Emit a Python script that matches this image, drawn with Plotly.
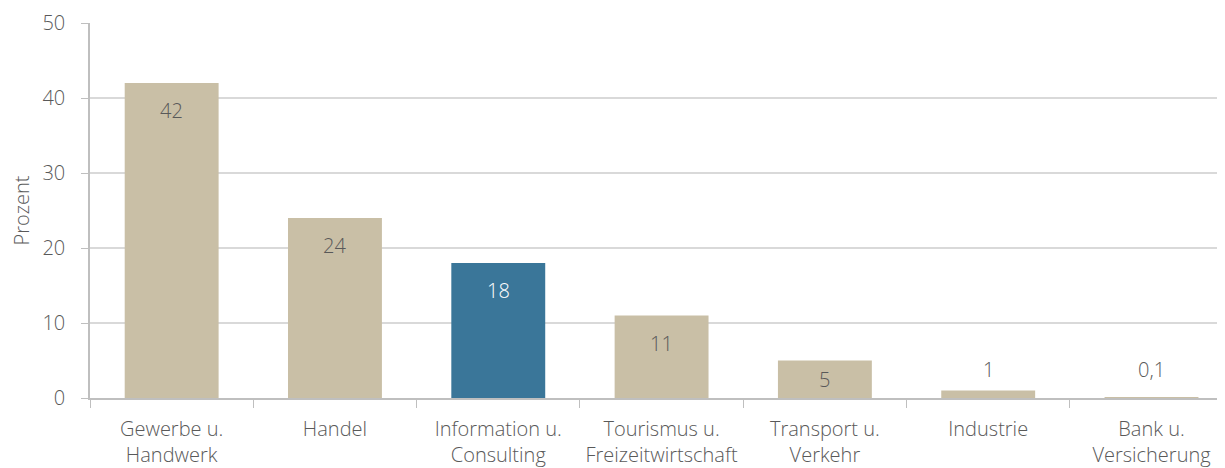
import plotly.graph_objects as go

categories = ["Gewerbe u.<br>Handwerk", "Handel", "Information u.<br>Consulting",
              "Tourismus u.<br>Freizeitwirtschaft", "Transport u.<br>Verkehr",
              "Industrie", "Bank u.<br>Versicherung"]
values = [42, 24, 18, 11, 5, 1, 0.1]
value_labels = ["42", "24", "18", "11", "5", "1", "0,1"]
highlight = [False, False, True, False, False, False, False]
y_ticks = [0, 10, 20, 30, 40, 50]

BEIGE = "#C9BFA6"
BLUE = "#3A7699"
GRAY = "#595959"
FONT = "Open Sans"
FS = 20

colors = [BLUE if h else BEIGE for h in highlight]

fig = go.Figure(go.Bar(x=categories, y=values, marker=dict(color=colors, line=dict(width=0)),
                       width=0.575, hoverinfo="skip"))

# label placement style: inside near top for tall bars, above for tiny bars
for i, (c, v, t) in enumerate(zip(categories, values, value_labels)):
    inside = v >= 5
    if inside:
        yshift = -12 if v > 5 else -3
        fig.add_annotation(x=c, y=v, text=t, showarrow=False, yanchor="top", yshift=yshift,
                           font=dict(family=FONT, size=FS, weight=300,
                                     color="white" if highlight[i] else GRAY))
    else:
        yshift = 6 if v >= 1 else 12
        fig.add_annotation(x=c, y=v, text=t, showarrow=False, yanchor="bottom", yshift=yshift,
                           font=dict(family=FONT, size=FS, weight=300, color=GRAY))

fig.update_layout(
    width=1217, height=460,
    margin=dict(l=82, r=0, t=15, b=70),
    plot_bgcolor="white", paper_bgcolor="white",
    font=dict(family=FONT, size=FS, color=GRAY, weight=300),
    showlegend=False,
)
fig.update_xaxes(type="category", range=[-0.5, 6.45], tickson="boundaries",
                 ticks="outside", ticklen=8, tickcolor="#BFBFBF", showline=True,
                 linecolor="#BFBFBF", linewidth=1.5, showgrid=False,
                 ticklabelstandoff=12,
                 tickfont=dict(family=FONT, size=FS, weight=300, color=GRAY))
fig.update_yaxes(range=[0, 50], tickvals=y_ticks, ticks="outside", ticklen=7,
                 tickcolor="#BFBFBF", showline=True, linecolor="#BFBFBF", linewidth=1.5,
                 gridcolor="#D9D9D9", gridwidth=1.5, zeroline=False,
                 ticklabelstandoff=12,
                 tickfont=dict(family=FONT, size=FS, weight=300, color=GRAY),
                 title=dict(text="Prozent", font=dict(family=FONT, size=FS, weight=300, color=GRAY),
                            standoff=14))

fig.write_html("out.html")
